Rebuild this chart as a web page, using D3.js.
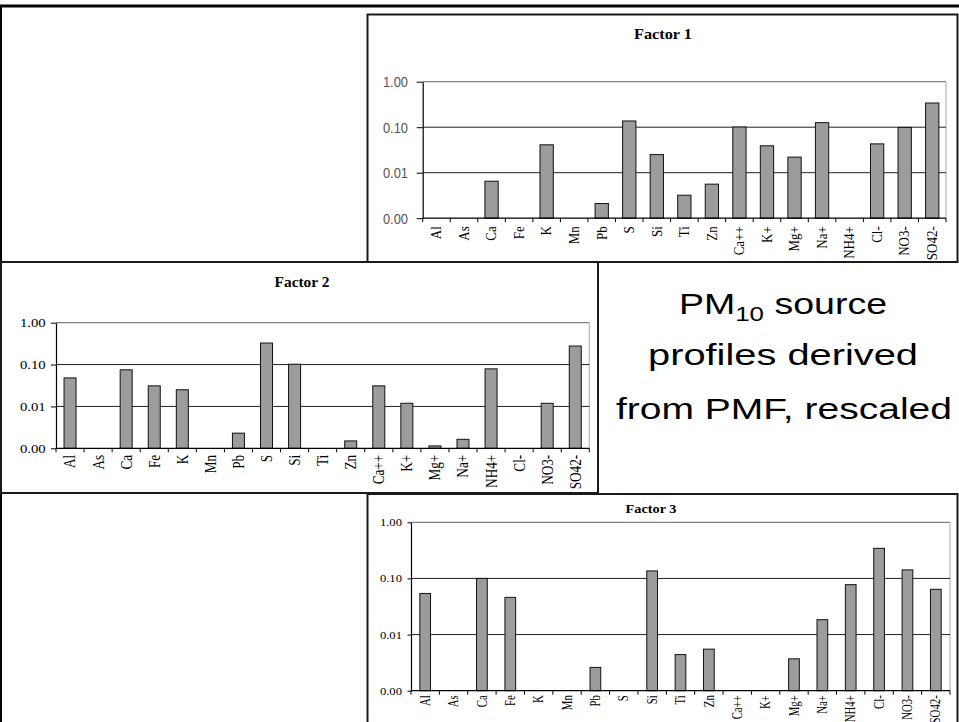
<!DOCTYPE html>
<html>
<head>
<meta charset="utf-8">
<script src="https://cdn.jsdelivr.net/npm/d3@7"></script>
<style>
  html, body { margin: 0; padding: 0; background: #fff; }
  svg { display: block; }
</style>
</head>
<body>
<svg id="chart" width="959" height="722"></svg>
<script>
// ---------------- DATA ----------------
const categories = ["Al","As","Ca","Fe","K","Mn","Pb","S","Si","Ti","Zn","Ca++","K+","Mg+","Na+","NH4+","Cl-","NO3-","SO42-"];
const factor1Values = [null, null, 0.0065, null, 0.041, null, 0.0021, 0.137, 0.025, 0.0032, 0.0056, 0.101, 0.039, 0.022, 0.126, null, 0.043, 0.099, 0.34];
const factor2Values = [0.048, null, 0.075, 0.031, 0.025, null, 0.0023, 0.327, 0.102, null, 0.0015, 0.031, 0.0119, 0.00114, 0.00164, 0.079, null, 0.0119, 0.277];
const factor3Values = [0.054, null, 0.100, 0.046, null, null, 0.0026, null, 0.136, 0.0044, 0.0055, null, null, 0.0037, 0.0184, 0.0775, 0.344, 0.142, 0.064];
const yTickValues = [0.001, 0.01, 0.1, 1];
const titles = ["Factor 1", "Factor 2", "Factor 3"];
const noteLines = ["PM", "10", " source", "profiles derived", "from PMF, rescaled"];

// ---------------- LAYOUT ----------------
const svg = d3.select("#chart");
const SERIF = "'Liberation Serif','Times New Roman',Times,serif";
const SANS = "'Liberation Sans',Arial,Helvetica,sans-serif";

// outer frame pieces
svg.append("line").attr("x1", 0).attr("x2", 959).attr("y1", 6).attr("y2", 6)
  .attr("stroke", "#000").attr("stroke-width", 3);
svg.append("line").attr("x1", 1).attr("x2", 1).attr("y1", 5).attr("y2", 722)
  .attr("stroke", "#000").attr("stroke-width", 2);

const panels = [
  { values: factor1Values, title: titles[0],
    frame: {x: 367.5, y: 14.5, w: 590, h: 247.5},
    plot: {x0: 422.7, x1: 946, yTop: 81.7, yBot: 218.2},
    titlePos: {x: 663, y: 39, size: 15.5, sx: 1.05},
    tick: {font: SANS, size: 15, sx: 0.86, gap: 14.7, len: 6, color: "#555"},
    cat: {size: 13, sx: 1.12, gap: 8},
    barW: 13.3 },
  { values: factor2Values, title: titles[1],
    frame: {x: 1, y: 262, w: 597, h: 231},
    plot: {x0: 56, x1: 589.3, yTop: 322.7, yBot: 448.3},
    titlePos: {x: 302, y: 287, size: 14, sx: 1.1},
    tick: {font: SERIF, size: 12.5, sx: 1.18, gap: 10.3, len: 5, color: "#000"},
    cat: {size: 13.2, sx: 1.25, gap: 6.5},
    barW: 12 },
  { values: factor3Values, title: titles[2],
    frame: {x: 367.5, y: 494, w: 590, h: 240},
    plot: {x0: 411, x1: 950, yTop: 522.3, yBot: 690.7},
    titlePos: {x: 651, y: 513, size: 13, sx: 1.1},
    tick: {font: SERIF, size: 11, sx: 1.15, gap: 9, len: 3.5, color: "#000"},
    cat: {size: 10.8, sx: 1.3, gap: 4.5},
    barW: 10.7 }
];

panels.forEach(p => {
  const g = svg.append("g");
  // panel frame
  g.append("rect").attr("x", p.frame.x).attr("y", p.frame.y)
    .attr("width", p.frame.w).attr("height", p.frame.h)
    .attr("fill", "#fff").attr("stroke", "#1a1a1a").attr("stroke-width", 2);

  const x = d3.scaleBand().domain(categories).range([p.plot.x0, p.plot.x1]).padding(0);
  const y = d3.scaleLog().domain([0.001, 1]).range([p.plot.yBot, p.plot.yTop]);

  // plot-area border (top gray, right light gray)
  g.append("line").attr("x1", p.plot.x0).attr("x2", p.plot.x1)
    .attr("y1", y(1)).attr("y2", y(1)).attr("stroke", "#808080").attr("stroke-width", 1.2);
  g.append("line").attr("x1", p.plot.x1).attr("x2", p.plot.x1)
    .attr("y1", y(1)).attr("y2", y(0.001)).attr("stroke", "#b8b8b8").attr("stroke-width", 1.2);

  // gridlines
  g.append("g").selectAll("line").data(yTickValues.filter(v => v > 0.001 && v < 1)).join("line")
    .attr("x1", p.plot.x0).attr("x2", p.plot.x1)
    .attr("y1", d => y(d)).attr("y2", d => y(d))
    .attr("stroke", "#222").attr("stroke-width", 1);

  // bars
  const bw = x.bandwidth();
  g.append("g").selectAll("rect")
    .data(categories.map((c, i) => ({c, v: p.values[i]})).filter(d => d.v != null))
    .join("rect")
    .attr("x", d => x(d.c) + (bw - p.barW) / 2)
    .attr("y", d => y(d.v))
    .attr("width", p.barW)
    .attr("height", d => y(0.001) - y(d.v))
    .attr("fill", "#9c9c9c").attr("stroke", "#111").attr("stroke-width", 1);

  // y axis
  const yAxis = d3.axisLeft(y).tickValues(yTickValues).tickFormat(d3.format(".2f"))
    .tickSize(p.tick.len).tickSizeOuter(0);
  const ya = g.append("g").attr("transform", `translate(${p.plot.x0},0)`).call(yAxis);
  ya.select(".domain").attr("stroke", "#000").attr("stroke-width", 1.2);
  ya.selectAll(".tick line").attr("stroke", "#000");
  ya.selectAll(".tick text")
    .attr("font-family", p.tick.font).attr("font-size", p.tick.size)
    .attr("fill", p.tick.color)
    .attr("x", -(p.tick.gap) / p.tick.sx)
    .attr("transform", `scale(${p.tick.sx},1)`);

  // x axis line
  g.append("line").attr("x1", p.plot.x0).attr("x2", p.plot.x1)
    .attr("y1", y(0.001)).attr("y2", y(0.001)).attr("stroke", "#000").attr("stroke-width", 1.2);
  // x tick marks at category boundaries
  const bounds = categories.map(c => x(c)).concat([p.plot.x1]);
  g.append("g").selectAll("line").data(bounds).join("line")
    .attr("x1", d => d).attr("x2", d => d)
    .attr("y1", y(0.001)).attr("y2", y(0.001) + 4)
    .attr("stroke", "#000");

  // category labels
  g.append("g").selectAll("text").data(categories).join("text")
    .attr("transform", d => `translate(${x(d) + bw / 2},${y(0.001) + p.cat.gap}) scale(${p.cat.sx},1) rotate(-90)`)
    .attr("text-anchor", "end").attr("dy", "0.33em")
    .attr("font-family", SERIF).attr("font-size", p.cat.size).attr("fill", "#000")
    .text(d => d);

  // title
  g.append("text")
    .attr("transform", `translate(${p.titlePos.x},${p.titlePos.y}) scale(${p.titlePos.sx},1)`)
    .attr("text-anchor", "middle").attr("font-family", SERIF).attr("font-weight", "bold")
    .attr("font-size", p.titlePos.size).text(p.title);
});

// note text
const note = svg.append("g").attr("font-family", SANS).attr("fill", "#000");
const t1 = note.append("text").attr("x", 679).attr("y", 313.7).attr("font-size", 29)
  .attr("textLength", 208).attr("lengthAdjust", "spacingAndGlyphs");
t1.append("tspan").text(noteLines[0]);
t1.append("tspan").attr("font-size", 20).attr("dy", 7).text(noteLines[1]);
t1.append("tspan").attr("dy", -7).text(noteLines[2]);
note.append("text").attr("x", 648).attr("y", 365.3).attr("font-size", 29)
  .attr("textLength", 270).attr("lengthAdjust", "spacingAndGlyphs").text(noteLines[3]);
note.append("text").attr("x", 616).attr("y", 419.3).attr("font-size", 29)
  .attr("textLength", 336).attr("lengthAdjust", "spacingAndGlyphs").text(noteLines[4]);
</script>
</body>
</html>
